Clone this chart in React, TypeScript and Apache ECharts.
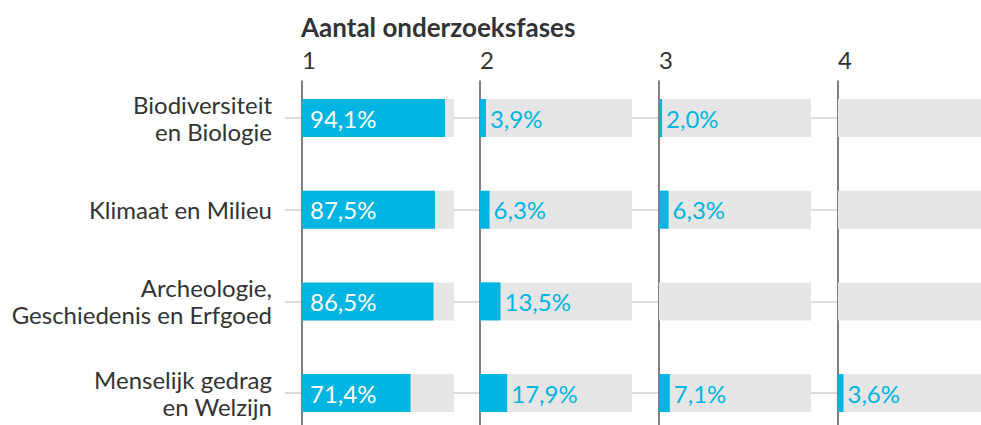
import React, { useEffect, useRef } from "react";
import * as echarts from "echarts";

const categories = [
  "Biodiversiteit\nen Biologie",
  "Klimaat en Milieu",
  "Archeologie,\nGeschiedenis en Erfgoed",
  "Menselijk gedrag\nen Welzijn",
];
const phaseLabels = ["1", "2", "3", "4"];
const phase1 = [94.1, 87.5, 86.5, 71.4];
const phase2 = [3.9, 6.3, 13.5, 17.9];
const phase3 = [2.0, 6.3, 0, 7.1];
const phase4 = [0, 0, 0, 3.6];
const phases = [phase1, phase2, phase3, phase4];
const fullScale = [100, 100, 100, 100];

const FONT = "Lato";
const BLUE = "#00b5e2";
const GREY = "#e6e6e6";
const TEXT = "#333333";
const FS = 24;

export default function App() {
  const ref = useRef<HTMLDivElement>(null);
  useEffect(() => {
    document.body.style.margin = "0";
    const chart = echarts.init(ref.current!, null, { renderer: "svg" });
    const lefts = [302, 480, 659, 838];
    const panelW = 152;
    const grids: any[] = [];
    const xAxes: any[] = [];
    const yAxes: any[] = [];
    const series: any[] = [];
    const fmt = (p: any) =>
      p.value > 0 ? p.value.toFixed(1).replace(".", ",") + "%" : "";

    // connector grid (index 0)
    grids.push({ left: 285, right: 0, top: 118, height: 275, outerBoundsMode: "none", containLabel: false });
    xAxes.push({ gridIndex: 0, type: "value", show: false, min: 0, max: 1 });
    yAxes.push({
      gridIndex: 0,
      type: "category",
      data: categories,
      inverse: true,
      boundaryGap: false,
      axisLine: { show: false },
      axisTick: { show: false },
      axisLabel: { show: false },
      splitLine: {
        show: true,
        interval: 0,
        lineStyle: { color: "#cfcfcf", width: 1.5 },
      },
    });

    phases.forEach((vals, i) => {
      const g = grids.length;
      grids.push({ left: lefts[i], width: panelW, top: 72.2, height: 366.7, outerBoundsMode: "none", containLabel: false });
      xAxes.push({ gridIndex: g, type: "value", min: 0, max: 100, show: false });
      yAxes.push({
        gridIndex: g,
        type: "category",
        data: categories,
        inverse: true,
        axisLine: { show: false },
        axisTick: { show: false },
        splitLine: { show: false },
        axisLabel: {
          show: i === 0,
          margin: 30,
          color: TEXT,
          fontFamily: FONT,
          fontSize: FS,
          lineHeight: 27,
          align: "right",
        },
      });
      series.push({
        type: "bar",
        xAxisIndex: g,
        yAxisIndex: g,
        data: fullScale,
        barWidth: 38,
        silent: true,
        itemStyle: { color: GREY },
        z: 1,
      });
      series.push({
        type: "bar",
        xAxisIndex: g,
        yAxisIndex: g,
        data: vals,
        barWidth: 38,
        barGap: "-100%",
        itemStyle: { color: BLUE },
        z: 2,
        label: {
          show: true,
          position: i === 0 ? "insideLeft" : "right",
          distance: i === 0 ? 8 : 4,
          color: i === 0 ? "#ffffff" : BLUE,
          fontFamily: FONT,
          fontSize: FS,
          formatter: fmt,
        },
      });
      const f = grids.length;
      grids.push({ left: lefts[i], width: panelW, top: 81, bottom: 0, outerBoundsMode: "none", containLabel: false });
      xAxes.push({ gridIndex: f, type: "value", show: false, min: 0, max: 1 });
      yAxes.push({
        gridIndex: f,
        type: "value",
        min: 0,
        max: 1,
        name: phaseLabels[i],
        nameLocation: "end",
        nameGap: 22,
        nameTextStyle: {
          color: TEXT,
          fontFamily: FONT,
          fontSize: FS,
          align: "left",
          verticalAlign: "middle",
        },
        axisLine: { show: true, lineStyle: { color: "#555555", width: 1.5 } },
        axisTick: { show: false },
        axisLabel: { show: false },
        splitLine: { show: false },
      });
    });

    chart.setOption({
      animation: false,
      title: {
        text: "Aantal onderzoeksfases",
        left: 301,
        top: 14,
        padding: 0,
        textStyle: {
          color: TEXT,
          fontFamily: FONT,
          fontSize: 26,
          fontWeight: "bold",
        },
      },
      grid: grids,
      xAxis: xAxes,
      yAxis: yAxes,
      series,
    });
    return () => chart.dispose();
  }, []);
  return <div ref={ref} style={{ width: 981, height: 425 }} />;
}
